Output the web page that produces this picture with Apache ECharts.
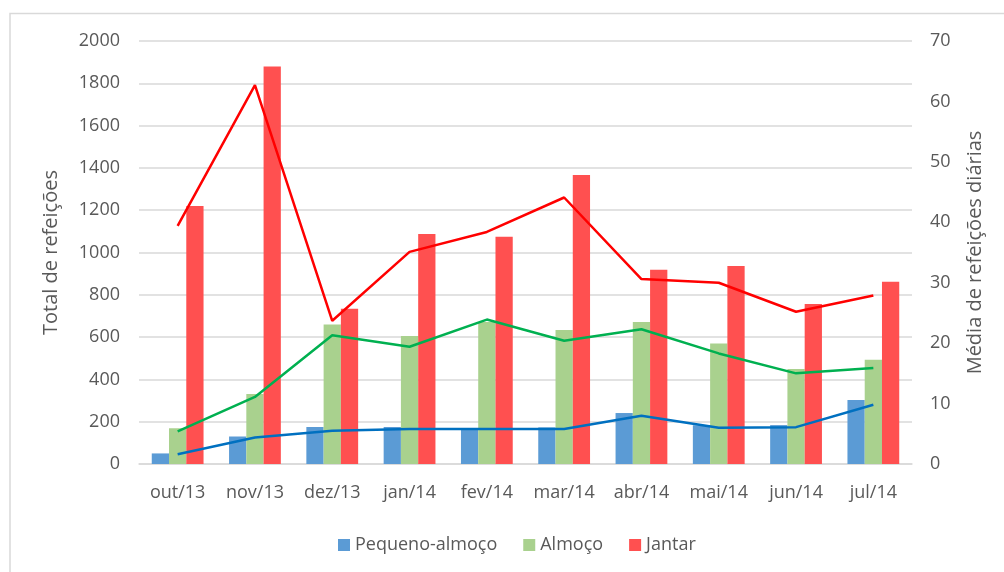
<!DOCTYPE html>
<html>
<head>
<meta charset="utf-8">
<script src="https://cdn.jsdelivr.net/npm/echarts@6/dist/echarts.min.js"></script>
<style>html,body{margin:0;padding:0;background:#fff}#c{width:1004px;height:572px}</style>
</head>
<body>
<div id="c"></div>
<script>
const categories = ['out/13','nov/13','dez/13','jan/14','fev/14','mar/14','abr/14','mai/14','jun/14','jul/14'];
const totalPequeno = [50,130,175,175,167,173,241,183,184,303];
const totalAlmoco = [169,331,660,605,671,634,671,570,449,493];
const totalJantar = [1220,1880,734,1087,1075,1366,919,936,756,862];
const mediaPequeno = [1.6,4.4,5.5,5.8,5.8,5.8,8.0,6.0,6.1,9.8];
const mediaAlmoco = [5.4,11.1,21.3,19.4,23.9,20.4,22.3,18.3,15.0,15.9];
const mediaJantar = [39.4,62.7,23.7,35.1,38.4,44.1,30.6,30.0,25.2,27.9];
const leftTicks = {min:0,max:2000,interval:200};
const rightTicks = {min:0,max:70,interval:10};

const FONT = 'Open Sans';
const GRAY = '#595959';
const chart = echarts.init(document.getElementById('c'), null, {renderer:'canvas'});
chart.setOption({
  animation:false,
  backgroundColor:'#fff',
  textStyle:{fontFamily:FONT},
  graphic:[{type:'rect',shape:{x:10,y:13.5,width:1010,height:600},style:{fill:'none',stroke:'#d9d9d9',lineWidth:1.5},silent:true,z:-10}],
  grid:{left:139,right:92,top:41,bottom:108,containLabel:false},
  legend:{
    left:333,top:531,itemWidth:12,itemHeight:12,itemGap:26,itemTextGap:7,
    icon:'rect',
    textStyle:{fontFamily:FONT,fontSize:18,color:GRAY},
    data:['Pequeno-almoço','Almoço','Jantar']
  },
  xAxis:{
    type:'category',data:categories,
    axisLine:{lineStyle:{color:'#d9d9d9',width:1.5}},
    axisTick:{show:false},
    axisLabel:{color:GRAY,fontSize:18,fontFamily:FONT,margin:20,interval:0}
  },
  yAxis:[
    {type:'value',min:leftTicks.min,max:leftTicks.max,interval:leftTicks.interval,
     name:'Total de refeições',nameLocation:'middle',nameGap:78,
     nameTextStyle:{color:GRAY,fontSize:20,fontFamily:FONT},
     axisLine:{show:false},axisTick:{show:false},
     axisLabel:{color:GRAY,fontSize:18,fontFamily:FONT,margin:19,formatter:v=>String(v)},
     splitLine:{lineStyle:{color:'#d9d9d9',width:1.5}}},
    {type:'value',min:rightTicks.min,max:rightTicks.max,interval:rightTicks.interval,
     name:'Média de refeições diárias',nameLocation:'middle',nameGap:53,
     nameTextStyle:{color:GRAY,fontSize:20,fontFamily:FONT},
     axisLine:{show:false},axisTick:{show:false},
     axisLabel:{color:GRAY,fontSize:18,fontFamily:FONT,margin:18,formatter:v=>String(v)},
     splitLine:{show:false}}
  ],
  series:[
    {name:'Pequeno-almoço',type:'bar',data:totalPequeno,itemStyle:{color:'#5B9BD5'},barGap:'0%',barCategoryGap:'33%'},
    {name:'Almoço',type:'bar',data:totalAlmoco,itemStyle:{color:'#A9D18E'}},
    {name:'Jantar',type:'bar',data:totalJantar,itemStyle:{color:'#FF5050'}},
    {name:'Média Pequeno-almoço',type:'line',yAxisIndex:1,data:mediaPequeno,symbol:'none',lineStyle:{color:'#0070C0',width:2.5},itemStyle:{color:'#0070C0'}},
    {name:'Média Almoço',type:'line',yAxisIndex:1,data:mediaAlmoco,symbol:'none',lineStyle:{color:'#00B050',width:2.5},itemStyle:{color:'#00B050'}},
    {name:'Média Jantar',type:'line',yAxisIndex:1,data:mediaJantar,symbol:'none',lineStyle:{color:'#FF0000',width:2.5},itemStyle:{color:'#FF0000'}}
  ]
});
</script>
</body>
</html>
